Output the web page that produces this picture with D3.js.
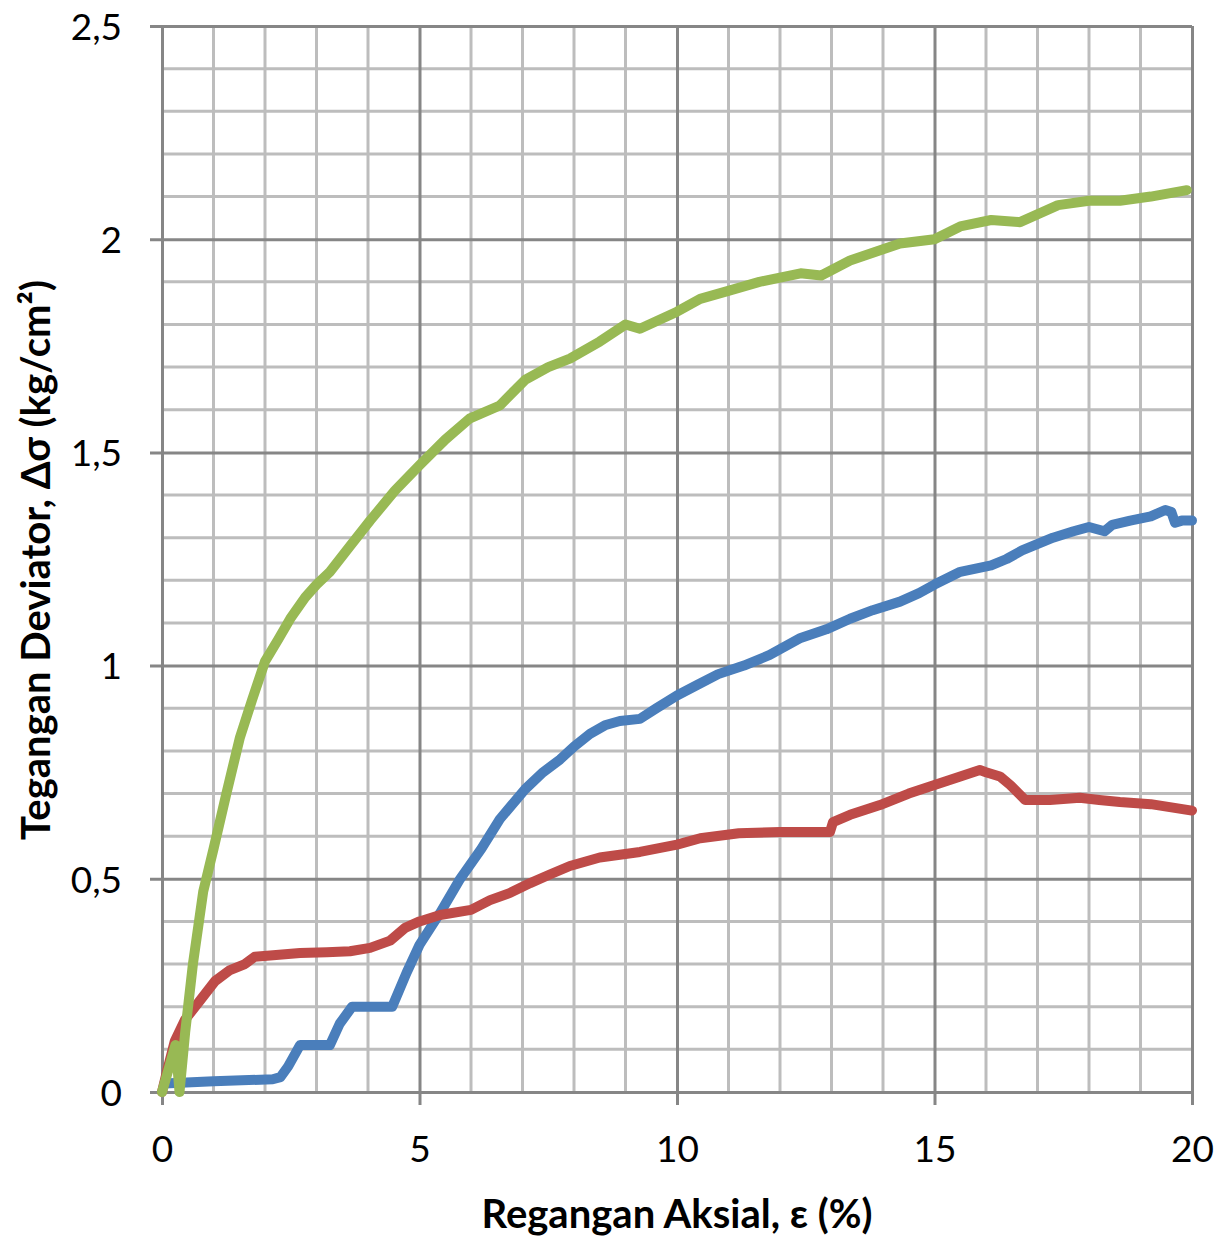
<!DOCTYPE html>
<html>
<head>
<meta charset="utf-8">
<script src="https://cdn.jsdelivr.net/npm/d3@7"></script>
<style>
  body { margin: 0; background: #fff; }
  text { font-family: Lato, "Open Sans", sans-serif; fill: #000; }
</style>
</head>
<body>
<div id="chart"></div>
<script>
// Tegangan deviator vs regangan aksial

// x ticks / y ticks
var xTicks = [0, 5, 10, 15, 20];
var yTicks = [0, 0.5, 1, 1.5, 2, 2.5];

// blue series [strain %, stress kg/cm2]
var blueData = [
  [0.05, 0.02], [1.0, 0.025], [2.15, 0.03], [2.3, 0.035], [2.45, 0.06], [2.68, 0.11],
  [3.26, 0.11], [3.45, 0.16], [3.69, 0.2], [4.47, 0.2], [4.75, 0.28], [5.0, 0.345],
  [5.4, 0.42], [5.79, 0.5], [6.2, 0.57], [6.56, 0.64], [7.05, 0.71], [7.4, 0.75],
  [7.73, 0.78], [8.0, 0.81], [8.31, 0.84], [8.6, 0.86], [8.89, 0.87], [9.28, 0.875],
  [9.6, 0.9], [10.0, 0.93], [10.4, 0.955], [10.8, 0.98], [11.3, 1.0], [11.8, 1.025],
  [12.1, 1.045], [12.4, 1.065], [12.9, 1.085], [13.36, 1.11], [13.8, 1.13], [14.33, 1.15],
  [14.7, 1.17], [15.0, 1.19], [15.5, 1.22], [16.1, 1.235], [16.4, 1.25], [16.7, 1.27],
  [17.3, 1.30], [17.7, 1.315], [18.0, 1.325], [18.3, 1.315], [18.45, 1.33], [18.8, 1.34],
  [19.2, 1.35], [19.48, 1.365], [19.6, 1.36], [19.67, 1.335], [19.8, 1.34], [20.0, 1.34]
];

// red series
var redData = [
  [0.0, 0.0], [0.1, 0.05], [0.25, 0.12], [0.45, 0.17], [0.74, 0.215], [1.03, 0.26],
  [1.32, 0.286], [1.61, 0.30], [1.8, 0.317], [2.1, 0.32], [2.68, 0.326], [3.2, 0.328],
  [3.65, 0.33], [4.04, 0.338], [4.43, 0.355], [4.72, 0.385], [5.0, 0.40], [5.4, 0.415],
  [6.0, 0.427], [6.37, 0.45], [6.76, 0.467], [7.15, 0.49], [7.53, 0.51], [7.92, 0.53],
  [8.5, 0.55], [9.28, 0.563], [10.0, 0.58], [10.45, 0.595], [11.2, 0.607], [12.0, 0.61],
  [12.97, 0.61], [13.03, 0.633], [13.36, 0.65], [13.94, 0.673], [14.5, 0.70], [15.0, 0.72],
  [15.5, 0.74], [15.88, 0.755], [16.0, 0.75], [16.27, 0.74], [16.47, 0.72], [16.76, 0.685],
  [17.24, 0.685], [17.82, 0.69], [18.2, 0.685], [18.6, 0.68], [19.2, 0.675], [20.0, 0.66]
];

// green series
var greenData = [
  [0.0, 0.0], [0.12, 0.05], [0.26, 0.11], [0.3, 0.06], [0.34, 0.0], [0.45, 0.14],
  [0.6, 0.3], [0.8, 0.47], [1.0, 0.57], [1.25, 0.7], [1.51, 0.83], [1.75, 0.92],
  [2.0, 1.01], [2.25, 1.06], [2.49, 1.11], [2.78, 1.16], [3.0, 1.19], [3.26, 1.22],
  [3.65, 1.28], [4.04, 1.34], [4.52, 1.41], [5.0, 1.47], [5.5, 1.53], [5.98, 1.58],
  [6.56, 1.61], [7.05, 1.67], [7.5, 1.70], [7.92, 1.72], [8.5, 1.76], [9.0, 1.80],
  [9.28, 1.79], [10.0, 1.83], [10.45, 1.86], [11.03, 1.88], [11.6, 1.90], [12.4, 1.92],
  [12.8, 1.915], [13.36, 1.95], [14.33, 1.99], [15.0, 2.0], [15.5, 2.03], [16.1, 2.045],
  [16.66, 2.04], [17.4, 2.08], [18.0, 2.09], [18.6, 2.09], [19.2, 2.10], [19.9, 2.115]
];

var svgWidth = 1226;
var svgHeight = 1243;
var margin = { top: 26, right: 34, bottom: 151, left: 162 };
var width = svgWidth - margin.left - margin.right;
var height = svgHeight - margin.top - margin.bottom;

var svg = d3.select("#chart")
  .append("svg")
  .attr("width", svgWidth)
  .attr("height", svgHeight);

var chartGroup = svg.append("g")
  .attr("transform", `translate(${margin.left},${margin.top})`);

var xScale = d3.scaleLinear().domain([0, 20]).range([0, width]);
var yScale = d3.scaleLinear().domain([0, 2.5]).range([height, 0]);

// minor grid
chartGroup.append("g")
  .selectAll("line")
  .data(d3.range(1, 20).filter(d => d % 5 !== 0))
  .enter()
  .append("line")
  .attr("x1", d => xScale(d)).attr("x2", d => xScale(d))
  .attr("y1", 0).attr("y2", height)
  .attr("stroke", "#bdbdbd").attr("stroke-width", 3);

chartGroup.append("g")
  .selectAll("line")
  .data(d3.range(1, 25).filter(d => d % 5 !== 0).map(d => d / 10))
  .enter()
  .append("line")
  .attr("y1", d => yScale(d)).attr("y2", d => yScale(d))
  .attr("x1", 0).attr("x2", width)
  .attr("stroke", "#bdbdbd").attr("stroke-width", 3);

// major grid + axes with outside ticks
var bottomAxis = d3.axisBottom(xScale)
  .tickValues(xTicks)
  .tickSize(-height - 13)
  .tickPadding(57)
  .tickFormat(d3.format("d"));

var leftAxis = d3.axisLeft(yScale)
  .tickValues(yTicks)
  .tickSize(-width - 12)
  .tickPadding(28)
  .tickFormat(d => String(d).replace(".", ","));

var xAxis = chartGroup.append("g")
  .attr("transform", `translate(0, ${height + 13})`)
  .call(bottomAxis);

var yAxis = chartGroup.append("g")
  .attr("transform", "translate(-12, 0)")
  .call(leftAxis);

[xAxis, yAxis].forEach(ax => {
  ax.select(".domain").remove();
  ax.selectAll("line").attr("stroke", "#868686").attr("stroke-width", 3);
  ax.selectAll("text")
    .style("font-size", "37px")
    .style("font-family", "Lato, 'Open Sans', sans-serif")
    .attr("fill", "#000");
});
xAxis.selectAll("text").attr("dy", "0");
yAxis.selectAll("text").attr("dy", "0.36em");

// lines
var line = d3.line()
  .x(d => xScale(d[0]))
  .y(d => yScale(d[1]));

var series = [
  { data: blueData, color: "#4a7ebb" },
  { data: redData, color: "#be4b48" },
  { data: greenData, color: "#98b954" }
];

chartGroup.selectAll(".series")
  .data(series)
  .enter()
  .append("path")
  .attr("class", "series")
  .attr("d", d => line(d.data))
  .attr("fill", "none")
  .attr("stroke", d => d.color)
  .attr("stroke-width", 10)
  .attr("stroke-linejoin", "round")
  .attr("stroke-linecap", "round");

// axis titles
svg.append("text")
  .attr("x", margin.left + width / 2)
  .attr("y", 1228)
  .attr("text-anchor", "middle")
  .style("font-size", "40px")
  .style("font-weight", "bold")
  .text("Regangan Aksial, ε (%)");

svg.append("text")
  .attr("transform", `translate(50, 560) rotate(-90)`)
  .attr("text-anchor", "middle")
  .style("font-size", "40px")
  .style("font-weight", "bold")
  .text("Tegangan Deviator, Δσ (kg/cm²)");
</script>
</body>
</html>
